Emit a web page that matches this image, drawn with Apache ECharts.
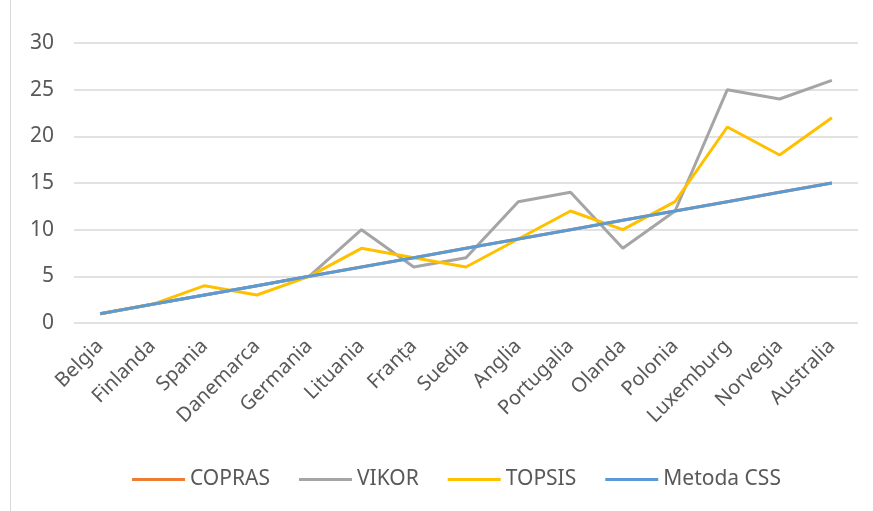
<!DOCTYPE html>
<html>
<head>
<meta charset="utf-8">
<script src="https://cdn.jsdelivr.net/npm/echarts@6/dist/echarts.min.js"></script>
<style>html,body{margin:0;padding:0;background:#fff}#c{width:873px;height:511px}</style>
</head>
<body>
<div id="c"></div>
<script>
var categories = ['Belgia','Finlanda','Spania','Danemarca','Germania','Lituania','Franța','Suedia','Anglia','Portugalia','Olanda','Polonia','Luxemburg','Norvegia','Australia'];
var copras = [1,2,3,4,5,6,7,8,9,10,11,12,13,14,15];
var vikor = [1,2,3,4,5,10,6,7,13,14,8,12,25,24,26];
var topsis = [1,2,4,3,5,8,7,6,9,12,10,13,21,18,22];
var metodaCss = [1,2,3,4,5,6,7,8,9,10,11,12,13,14,15];
var yTicks = [0,5,10,15,20,25,30];

var chart = echarts.init(document.getElementById('c'));
var font = 'Noto Sans';
function mk(name, data, color) {
  return {name: name, type: 'line', data: data, symbol: 'none', smooth: false,
    lineStyle: {color: color, width: 3}, itemStyle: {color: color}};
}
chart.setOption({
  animation: false,
  textStyle: {fontFamily: font},
  grid: {left: 74, right: 15, top: 43, bottom: 188},
  graphic: [{type: 'line', shape: {x1: 10.5, y1: 0, x2: 10.5, y2: 511}, style: {stroke: '#d9d9d9', lineWidth: 1}}],
  legend: {
    top: 464, left: 127, itemWidth: 53, itemHeight: 3, itemGap: 29,
    icon: 'rect',
    textStyle: {fontSize: 21, color: '#595959', fontFamily: font},
    data: ['COPRAS','VIKOR','TOPSIS','Metoda CSS']
  },
  xAxis: {
    type: 'category', data: categories, boundaryGap: true,
    axisLine: {show: false}, axisTick: {show: false},
    axisLabel: {rotate: 45, color: '#595959', fontSize: 20, margin: 20, interval: 0, fontFamily: font}
  },
  yAxis: {
    type: 'value', min: 0, max: 30, interval: 5,
    axisLine: {show: false}, axisTick: {show: false},
    splitLine: {lineStyle: {color: '#d9d9d9', width: 1.5}},
    axisLabel: {color: '#595959', fontSize: 21, margin: 20, fontFamily: font,
      formatter: function (v) { return yTicks.indexOf(v) >= 0 ? String(v) : ''; }}
  },
  series: [
    mk('COPRAS', copras, '#ED7D31'),
    mk('VIKOR', vikor, '#A5A5A5'),
    mk('TOPSIS', topsis, '#FFC000'),
    mk('Metoda CSS', metodaCss, '#5B9BD5')
  ]
});
</script>
</body>
</html>
